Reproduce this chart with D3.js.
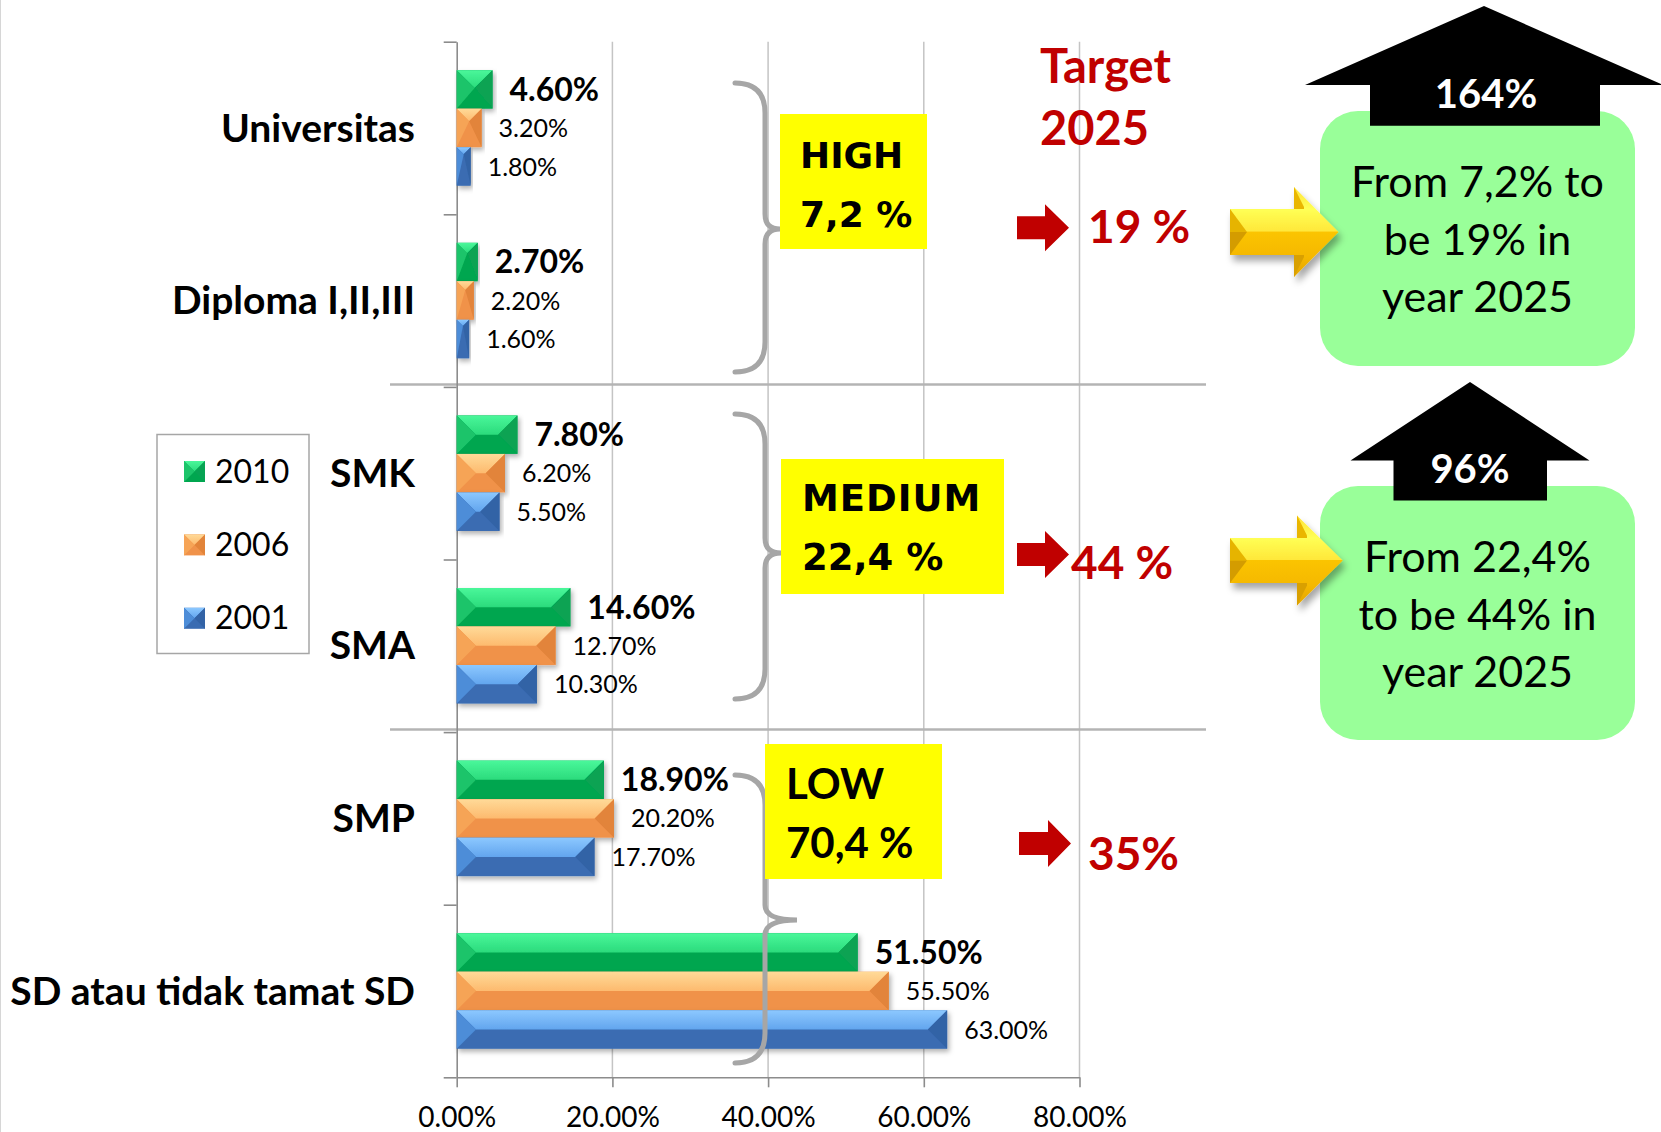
<!DOCTYPE html>
<html>
<head>
<meta charset="utf-8">
<script src="https://cdn.jsdelivr.net/npm/d3@7"></script>
<style>
    body { margin: 0; background: #fff; }
    #chart { width: 1661px; height: 1132px; }
    text { font-family: Lato, 'Open Sans', sans-serif; }
</style>
</head>
<body>
<div id="chart"></div>
<script>

// education levels, top to bottom
const categories = ['Universitas', 'Diploma I,II,III', 'SMK', 'SMA', 'SMP', 'SD atau tidak tamat SD'];
const years = ['2010', '2006', '2001'];

// share of workforce (%) per level
const values2010 = [4.6, 2.7, 7.8, 14.6, 18.9, 51.5];
const values2006 = [3.2, 2.2, 6.2, 12.7, 20.2, 55.5];
const values2001 = [1.8, 1.6, 5.5, 10.3, 17.7, 63.0];

const xTicks = [0, 20, 40, 60, 80];

// annotation texts
const tierLabels = [['HIGH', '7,2 %'], ['MEDIUM', '22,4 %'], ['LOW', '70,4 %']];
const targetTitle = ['Target', '2025'];
const targetValues = ['19 %', '44 %', '35%'];
const growthLabels = ['164%', '96%'];
const notes = [
    ['From 7,2% to', 'be 19% in', 'year 2025'],
    ['From 22,4%', 'to be 44% in', 'year 2025']
];

const eduChart = (function () {

    let svg = null,
        x = null,
        y = null,
        yInner = null,
        plot = null
    ;

    // bevel colours per series
    const palette = {
        '2010': {topA: '#4af79a', topB: '#2bdb7c', left: '#1cc46a', right: '#07a353', bottom: '#00a64f'},
        '2006': {topA: '#ffda98', topB: '#fdba6e', left: '#f6a456', right: '#e2843a', bottom: '#f0924a'},
        '2001': {topA: '#8cc8ff', topB: '#62a5ee', left: '#4d8dd8', right: '#3363a6', bottom: '#3a6cb2'}
    };

    return {
        init
    };

    function init() {

        plot = {left: 456.7, right: 1079.5, top: 41.7, bottom: 1077.3};

        svg = d3.select('#chart').append('svg')
            .attr('width', 1661)
            .attr('height', 1132);

        x = d3.scaleLinear()
            .domain([0, 80])
            .range([plot.left, plot.right]);

        y = d3.scaleBand()
            .domain(categories)
            .range([plot.top, plot.bottom]);

        yInner = d3.scaleBand()
            .domain(years)
            .range([0, y.bandwidth()])
            .paddingOuter(0.74);

        createDefs();
        drawGrid();
        drawBars();
        drawLegend();
        drawTiers();
        drawTargets();
    }

    function createDefs() {

        const defs = svg.append('defs');

        years.forEach(function (yr) {
            const g = defs.append('linearGradient')
                .attr('id', 'top-' + yr)
                .attr('x1', 0).attr('y1', 0)
                .attr('x2', 0).attr('y2', 1);
            g.append('stop').attr('offset', 0).attr('stop-color', palette[yr].topA);
            g.append('stop').attr('offset', 1).attr('stop-color', palette[yr].topB);
        });

        const yg = defs.append('linearGradient')
            .attr('id', 'yellow')
            .attr('x1', 0).attr('y1', 0)
            .attr('x2', 0).attr('y2', 1);
        [[0, '#ffe23a'], [0.25, '#ffff55'], [0.49, '#ffe83a'], [0.5, '#fbc400'],
         [0.78, '#f5b800'], [1, '#e3a400']].forEach(function (s) {
            yg.append('stop').attr('offset', s[0]).attr('stop-color', s[1]);
        });

        defs.append('filter')
            .attr('id', 'bar-shadow')
            .attr('x', '-5%').attr('y', '-20%')
            .attr('width', '115%').attr('height', '160%')
            .append('feDropShadow')
            .attr('dx', 2).attr('dy', 3)
            .attr('stdDeviation', 2.5)
            .attr('flood-color', '#000')
            .attr('flood-opacity', 0.3);

        defs.append('filter')
            .attr('id', 'arrow-shadow')
            .attr('x', '-10%').attr('y', '-20%')
            .attr('width', '130%').attr('height', '150%')
            .append('feDropShadow')
            .attr('dx', 3).attr('dy', 6)
            .attr('stdDeviation', 3.5)
            .attr('flood-color', '#000')
            .attr('flood-opacity', 0.35);
    }

    function poly(g, pts, fill) {
        return g.append('polygon')
            .attr('points', pts.map(function (p) { return p.join(','); }).join(' '))
            .attr('fill', fill);
    }

    // bar with an excel like bevel
    function bevelBar(g, x0, y0, w, h, yr) {
        const c = palette[yr];
        const b = Math.min(h / 2, w / 2);
        const x1 = x0 + w, y1 = y0 + h;

        g.append('rect')
            .attr('x', x0).attr('y', y0)
            .attr('width', w).attr('height', h)
            .attr('fill', c.bottom);

        poly(g, [[x0, y0], [x1, y0], [x1 - b, y0 + b], [x0 + b, y0 + b]], 'url(#top-' + yr + ')');
        poly(g, [[x0, y0], [x0 + b, y0 + b], [x0, y1]], c.left);
        poly(g, [[x1, y0], [x1 - b, y0 + b], [x1, y1]], c.right);
    }

    function drawGrid() {

        // left border of the slide
        svg.append('line')
            .attr('x1', 0.5).attr('x2', 0.5)
            .attr('y1', 0).attr('y2', 1132)
            .attr('stroke', '#d6d6d6');

        svg.append('g')
            .attr('class', 'grid')
            .selectAll('line')
            .data(xTicks.filter(function (t) { return t > 0; }))
            .join('line')
            .attr('x1', function (d) { return x(d); })
            .attr('x2', function (d) { return x(d); })
            .attr('y1', plot.top)
            .attr('y2', plot.bottom)
            .attr('stroke', '#c4c4c4')
            .attr('stroke-width', 1.5);

        // separators between HIGH / MEDIUM / LOW
        svg.append('g')
            .selectAll('line')
            .data([categories[2], categories[4]])
            .join('line')
            .attr('x1', 390)
            .attr('x2', 1206)
            .attr('y1', function (d) { return y(d) - 2.5; })
            .attr('y2', function (d) { return y(d) - 2.5; })
            .attr('stroke', '#b4b4b4')
            .attr('stroke-width', 2.5);

        //Y axis, ticks on category boundaries
        const yAxis = svg.append('g')
            .attr('transform', 'translate(' + plot.left + ',0)')
            .call(d3.axisLeft(
                d3.scaleLinear().domain([0, categories.length]).range([plot.top, plot.bottom]))
                .tickValues(d3.range(categories.length + 1))
                .tickSize(13)
                .tickSizeOuter(0)
                .tickFormat(''));

        //X axis
        const xAxis = svg.append('g')
            .attr('transform', 'translate(0,' + plot.bottom + ')')
            .call(d3.axisBottom(x)
                .tickValues(xTicks)
                .tickSize(10)
                .tickSizeOuter(0)
                .tickFormat(function (d) { return d.toFixed(2) + '%'; }));

        [yAxis, xAxis].forEach(function (a) {
            a.selectAll('path, line')
                .attr('stroke', '#8c8c8c')
                .attr('stroke-width', 1.6);
        });

        xAxis.selectAll('text')
            .attr('y', 50)
            .attr('dy', 0)
            .attr('fill', '#000')
            .style('font-family', 'Lato, sans-serif')
            .style('font-size', '28px');

        // category labels
        svg.append('g')
            .selectAll('text')
            .data(categories)
            .join('text')
            .attr('x', 415)
            .attr('y', function (d) { return y(d) + y.bandwidth() / 2 + 13.5; })
            .attr('text-anchor', 'end')
            .style('font-size', '39px')
            .style('font-weight', 'bold')
            .text(function (d) { return d; });
    }

    function drawBars() {

        const series = [values2010, values2006, values2001];

        const cat = svg.append('g')
            .attr('class', 'bars')
            .selectAll('g')
            .data(categories)
            .join('g')
            .attr('transform', function (d) { return 'translate(0,' + y(d) + ')'; });

        const bar = cat.selectAll('g')
            .data(function (d, ci) {
                return years.map(function (yr, si) {
                    return {year: yr, value: series[si][ci]};
                });
            })
            .join('g')
            .attr('filter', 'url(#bar-shadow)');

        bar.each(function (d) {
            bevelBar(d3.select(this), x(0), yInner(d.year),
                x(d.value) - x(0), yInner.bandwidth(), d.year);
        });

        // value labels, 2010 in bold
        cat.selectAll('text')
            .data(function (d, ci) {
                return years.map(function (yr, si) {
                    return {year: yr, value: series[si][ci]};
                });
            })
            .join('text')
            .attr('x', function (d) { return x(d.value) + 17; })
            .attr('y', function (d) {
                return yInner(d.year) + yInner.bandwidth() / 2 + (d.year === '2010' ? 11.3 : 9);
            })
            .style('font-size', function (d) { return d.year === '2010' ? '32px' : '25px'; })
            .style('font-weight', function (d) { return d.year === '2010' ? 'bold' : 'normal'; })
            .text(function (d) { return d.value.toFixed(2) + '%'; });
    }

    function drawLegend() {

        const legend = svg.append('g').attr('class', 'legend');

        legend.append('rect')
            .attr('x', 157).attr('y', 434.5)
            .attr('width', 152).attr('height', 219)
            .attr('fill', '#fff')
            .attr('stroke', '#a6a6a6')
            .attr('stroke-width', 1.5);

        years.forEach(function (yr, i) {
            const top = 461 + i * 73.4;
            bevelBar(legend.append('g'), 184, top, 21, 21, yr);
            legend.append('text')
                .attr('x', 215)
                .attr('y', top + 21.5)
                .style('font-size', '32px')
                .text(yr);
        });
    }

    function bracePath(xEnd, xSpine, xTip, yTop, yMid, yBot) {
        const r = 30, m = 15;
        return 'M' + xEnd + ',' + yTop +
            ' Q' + xSpine + ',' + yTop + ' ' + xSpine + ',' + (yTop + r) +
            ' L' + xSpine + ',' + (yMid - m) +
            ' Q' + xSpine + ',' + yMid + ' ' + xTip + ',' + yMid +
            ' Q' + xSpine + ',' + yMid + ' ' + xSpine + ',' + (yMid + m) +
            ' L' + xSpine + ',' + (yBot - r) +
            ' Q' + xSpine + ',' + yBot + ' ' + xEnd + ',' + yBot;
    }

    function drawTiers() {

        const braces = [
            [735, 765, 780, 83, 229, 372],
            [735, 765, 781, 414, 553, 699],
            [735, 765, 797, 775, 920, 1063]
        ];

        svg.append('g')
            .selectAll('path')
            .data(braces)
            .join('path')
            .attr('d', function (d) { return bracePath.apply(null, d); })
            .attr('fill', 'none')
            .attr('stroke', '#a6a6a6')
            .attr('stroke-width', 5)
            .attr('stroke-linecap', 'round');

        const boxes = [
            {x: 780, y: 114, w: 147, h: 135, tx: 800, base: 168, font: 'DejaVu Sans, sans-serif', size: 36, ls: 0},
            {x: 781, y: 459, w: 223, h: 135, tx: 802, base: 511, font: 'DejaVu Sans, sans-serif', size: 37, ls: 1},
            {x: 765, y: 744, w: 177, h: 135, tx: 786, base: 799, font: 'Lato, sans-serif', size: 42, ls: 0}
        ];

        const box = svg.append('g')
            .selectAll('g')
            .data(boxes)
            .join('g');

        box.append('rect')
            .attr('x', function (d) { return d.x; })
            .attr('y', function (d) { return d.y; })
            .attr('width', function (d) { return d.w; })
            .attr('height', function (d) { return d.h; })
            .attr('fill', '#ffff00');

        box.each(function (d, i) {
            d3.select(this).selectAll('text')
                .data(tierLabels[i])
                .join('text')
                .attr('x', d.tx)
                .attr('y', function (t, j) { return d.base + j * 58.5; })
                .style('font-family', d.font)
                .style('font-size', d.size + 'px')
                .style('font-weight', 'bold')
                .style('letter-spacing', function (t, j) { return j === 0 ? d.ls + 'px' : '0px'; })
                .text(function (t) { return t; });
        });
    }

    function drawTargets() {

        const red = '#c00000';

        svg.append('g')
            .selectAll('text')
            .data(targetTitle)
            .join('text')
            .attr('x', 1040)
            .attr('y', function (d, i) { return 82.7 + i * 62.3; })
            .attr('fill', red)
            .style('font-size', '47px')
            .style('font-weight', 'bold')
            .text(function (d) { return d; });

        // small red arrows pointing at the targets
        const redArrows = [
            {x0: 1017, xh: 1045, xt: 1069, yc: 227.7, tx: 1088, base: 243},
            {x0: 1017, xh: 1045, xt: 1069, yc: 554.5, tx: 1071, base: 578.5},
            {x0: 1019, xh: 1048, xt: 1071, yc: 843.5, tx: 1088, base: 870}
        ];

        const ra = svg.append('g');
        redArrows.forEach(function (a, i) {
            poly(ra, [[a.x0, a.yc - 11.5], [a.xh, a.yc - 11.5], [a.xh, a.yc - 23.5], [a.xt, a.yc],
                [a.xh, a.yc + 23.5], [a.xh, a.yc + 11.5], [a.x0, a.yc + 11.5]], red);
            ra.append('text')
                .attr('x', a.tx)
                .attr('y', a.base)
                .attr('fill', red)
                .style('font-size', '46px')
                .style('font-weight', 'bold')
                .text(targetValues[i]);
        });

        // green note boxes with black growth arrows
        const panels = [
            {box: [1320, 111, 315, 255], tip: [1484, 6], baseY: 85, head: [1305, 1663], shaft: [1370, 1600], bottom: 125.7,
             labelX: 1486, labelY: 108, noteY: 197},
            {box: [1320, 486, 315, 254], tip: [1470, 382], baseY: 460.5, head: [1350.5, 1589.5], shaft: [1393.5, 1547], bottom: 500.5,
             labelX: 1470, labelY: 483, noteY: 572}
        ];

        const pg = svg.append('g');
        panels.forEach(function (p, i) {
            pg.append('rect')
                .attr('x', p.box[0]).attr('y', p.box[1])
                .attr('width', p.box[2]).attr('height', p.box[3])
                .attr('rx', 38).attr('ry', 38)
                .attr('fill', '#99ff99');

            poly(pg, [[p.head[0], p.baseY], p.tip, [p.head[1], p.baseY], [p.shaft[1], p.baseY],
                [p.shaft[1], p.bottom], [p.shaft[0], p.bottom], [p.shaft[0], p.baseY]], '#000');

            pg.append('text')
                .attr('x', p.labelX)
                .attr('y', p.labelY)
                .attr('text-anchor', 'middle')
                .attr('fill', '#fff')
                .style('font-size', '40px')
                .style('font-weight', 'bold')
                .text(growthLabels[i]);

            pg.selectAll(null)
                .data(notes[i])
                .join('text')
                .attr('x', 1477.5)
                .attr('y', function (d, j) { return p.noteY + j * 57.5; })
                .attr('text-anchor', 'middle')
                .style('font-size', '43px')
                .text(function (d) { return d; });
        });

        // yellow 3d arrows
        const yellowArrows = [
            {x0: 1230, xh: 1294, xt: 1338.5, yc: 232, sh: 23, hh: 45},
            {x0: 1230, xh: 1297, xt: 1342.7, yc: 560.5, sh: 22.5, hh: 45}
        ];

        yellowArrows.forEach(function (a) {
            const g = svg.append('g').attr('filter', 'url(#arrow-shadow)');
            poly(g, [[a.x0, a.yc - a.sh], [a.xh, a.yc - a.sh], [a.xh, a.yc - a.hh], [a.xt, a.yc],
                [a.xh, a.yc + a.hh], [a.xh, a.yc + a.sh], [a.x0, a.yc + a.sh]], 'url(#yellow)');
            // left end bevel
            poly(g, [[a.x0, a.yc - a.sh], [a.x0 + 17, a.yc], [a.x0, a.yc]], '#e6b400');
            poly(g, [[a.x0, a.yc], [a.x0 + 17, a.yc], [a.x0, a.yc + a.sh]], '#d49c00');
            // head wing bevels
            poly(g, [[a.xh, a.yc - a.hh], [a.xh + 10, a.yc - a.hh + 20], [a.xh + 10, a.yc - a.sh], [a.xh, a.yc - a.sh]], '#eab600');
            poly(g, [[a.xh, a.yc + a.sh], [a.xh + 10, a.yc + a.sh], [a.xh + 10, a.yc + a.hh - 20], [a.xh, a.yc + a.hh]], '#d9a000');
        });
    }

}());

eduChart.init();

</script>
</body>
</html>
